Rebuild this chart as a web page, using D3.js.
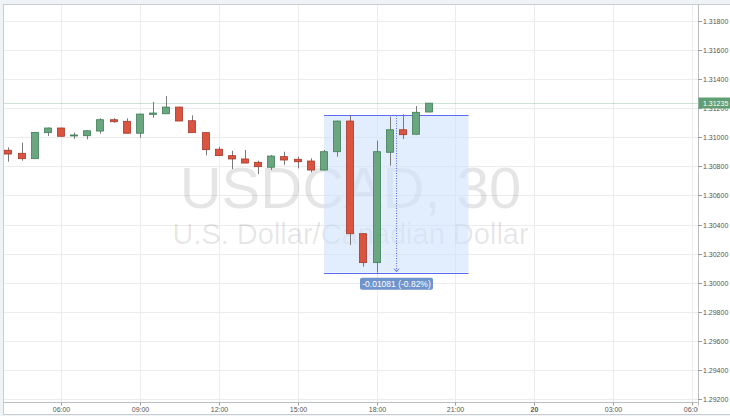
<!DOCTYPE html>
<html><head><meta charset="utf-8">
<script src="https://cdnjs.cloudflare.com/ajax/libs/d3/7.8.5/d3.min.js"></script>
<style>html,body{margin:0;padding:0;background:#f0f3f6;}svg{display:block;}</style>
</head><body><svg id="c" width="730" height="416"></svg>
<script>
// ---- data ----
const symbolTitle = "USDCAD, 30";
const symbolName = "U.S. Dollar/Canadian Dollar";
const barTimes = ["04:00","04:30","05:00","05:30","06:00","06:30","07:00","07:30","08:00","08:30","09:00","09:30","10:00","10:30","11:00","11:30","12:00","12:30","13:00","13:30","14:00","14:30","15:00","15:30","16:00","16:30","17:00","17:30","18:00","18:30","19:00","19:30","20:00"];
const opens  = [1.30911,1.30890,1.30853,1.31032,1.31064,1.31012,1.31011,1.31043,1.31121,1.31110,1.31028,1.31158,1.31162,1.31208,1.31114,1.31032,1.30918,1.30874,1.30851,1.30828,1.30794,1.30867,1.30849,1.30837,1.30775,1.30901,1.31112,1.30337,1.30138,1.30897,1.31052,1.31021,1.31174];
const highs  = [1.30931,1.30963,1.31037,1.31067,1.31066,1.31032,1.31048,1.31131,1.31131,1.31131,1.31162,1.31243,1.31284,1.31210,1.31151,1.31034,1.30935,1.30908,1.30913,1.30839,1.30878,1.30901,1.30867,1.30856,1.30913,1.31114,1.31150,1.30339,1.30977,1.31142,1.31158,1.31215,1.31235];
const lows   = [1.30832,1.30839,1.30851,1.31009,1.31006,1.30990,1.30986,1.31025,1.31100,1.31028,1.30997,1.31135,1.31160,1.31112,1.31032,1.30876,1.30872,1.30782,1.30823,1.30748,1.30775,1.30810,1.30787,1.30759,1.30773,1.30867,1.30259,1.30110,1.30069,1.30805,1.30988,1.31019,1.31172];
const closes = [1.30885,1.30853,1.31034,1.31064,1.31007,1.31016,1.31045,1.31121,1.31107,1.31028,1.31160,1.31167,1.31208,1.31112,1.31032,1.30915,1.30874,1.30851,1.30823,1.30798,1.30871,1.30844,1.30832,1.30775,1.30901,1.31112,1.30337,1.30138,1.30901,1.31052,1.31018,1.31172,1.31235];
const priceTicks = [1.292,1.294,1.296,1.298,1.300,1.302,1.304,1.306,1.308,1.310,1.312,1.314,1.316,1.318];
const priceTickLabels = ["1.29200","1.29400","1.29600","1.29800","1.30000","1.30200","1.30400","1.30600","1.30800","1.31000","1.31200","1.31400","1.31600","1.31800"];
const timeTicks = ["19 06:00","19 09:00","19 12:00","19 15:00","19 18:00","19 21:00","20 00:00","20 03:00","20 06:00"];
const timeTickLabels = ["06:00","09:00","12:00","15:00","18:00","21:00","20","03:00","06:00"];
const timeDomain = ["19 03:47:40","20 06:13:40"];
const lastPrice = 1.31235;
const lastPriceLabel = "1.31235";
const measureTimes = ["19 16:00","19 21:30"];
const measureMid = "19 18:45";
const measurePrices = [1.30069, 1.31150];
const measureLabel = "-0.01081 (-0.82%)";

// ---- helpers ----
function T(s){ // "DD HH:MM[:SS]"
  const [d, hm] = s.split(" ");
  const p = hm.split(":").map(Number);
  return new Date(2015, 0, +d, p[0], p[1], p[2]||0);
}
const candles = barTimes.map((t,i)=>({t:T("19 "+t),o:opens[i],h:highs[i],l:lows[i],c:closes[i]}));

const svg = d3.select("#c");
const L = 3.5, R = 698, TOP = 4.5, BOT = 402.5;
const x = d3.scaleTime().domain(timeDomain.map(T)).range([3, 698]);
const y = d3.scaleLinear().domain([1.292, 1.318]).range([399, 21]);
const font = "'Liberation Sans', Arial, sans-serif";

// frame
svg.append("rect").attr("x",L).attr("y",TOP).attr("width",740).attr("height",410)
  .attr("fill","#fff").attr("stroke","#c9cdd1");

svg.append("defs").append("clipPath").attr("id","plot")
  .append("rect").attr("x",L+0.5).attr("y",TOP+0.5).attr("width",R-L-0.5).attr("height",BOT-TOP-0.5);
svg.select("defs").append("clipPath").attr("id","xax")
  .append("rect").attr("x",L+0.5).attr("y",BOT).attr("width",R-L-0.5).attr("height",14);

// grid
const g = svg.append("g").attr("clip-path","url(#plot)");
g.selectAll("line.hg").data(priceTicks).enter().append("line")
  .attr("x1",L).attr("x2",R).attr("y1",d=>Math.round(y(d))+0.5).attr("y2",d=>Math.round(y(d))+0.5)
  .attr("stroke","#ececec");
g.selectAll("line.vg").data(timeTicks).enter().append("line")
  .attr("y1",TOP).attr("y2",BOT).attr("x1",d=>Math.round(x(T(d)))+0.5).attr("x2",d=>Math.round(x(T(d)))+0.5)
  .attr("stroke","#ececec");

// watermark
g.append("text").attr("x",350.5).attr("y",208).attr("text-anchor","middle")
  .attr("font-family",font).attr("font-size",58).attr("fill","#000").attr("fill-opacity",0.1)
  .text(symbolTitle);
g.append("text").attr("x",350.5).attr("y",244).attr("text-anchor","middle")
  .attr("font-family",font).attr("font-size",29).attr("fill","#000").attr("fill-opacity",0.1)
  .text(symbolName);

// measurement box
const mx0 = x(T(measureTimes[0])), mx1 = x(T(measureTimes[1]));
const my0 = y(measurePrices[1]), my1 = y(measurePrices[0]);
g.append("rect").attr("x",mx0).attr("y",my0).attr("width",mx1-mx0).attr("height",my1-my0)
  .attr("fill","#cfe2fb").attr("fill-opacity",0.6);
[my0,my1].forEach(v=>g.append("line").attr("x1",mx0).attr("x2",mx1).attr("y1",Math.round(v)+0.5).attr("y2",Math.round(v)+0.5)
  .attr("stroke","#5c6cf2").attr("stroke-width",1));
const mm = Math.round(x(T(measureMid)))+0.5;
g.append("line").attr("x1",mm).attr("x2",mm).attr("y1",my0).attr("y2",my1-1)
  .attr("stroke","#5c6cf2").attr("stroke-dasharray","1,1.5");
g.append("path").attr("d",`M${mm-2.5},${my1-4}L${mm},${my1-1}L${mm+2.5},${my1-4}`)
  .attr("fill","none").attr("stroke","#5c6cf2");

// last price dotted line
g.append("line").attr("x1",L).attr("x2",R).attr("y1",Math.round(y(lastPrice))+0.5).attr("y2",Math.round(y(lastPrice))+0.5)
  .attr("stroke","#9cc5ac").attr("stroke-dasharray","1,1");

// candles
const bw = 8;
const up = "#6aa67f", upS = "#3f7f58", dn = "#db5440", dnS = "#a9372a";
const cg = g.append("g");
cg.selectAll("line.w").data(candles).enter().append("line")
  .attr("x1",d=>Math.round(x(d.t))+0.5).attr("x2",d=>Math.round(x(d.t))+0.5)
  .attr("y1",d=>y(d.h)).attr("y2",d=>y(d.l)).attr("stroke","#7a7a7a");
cg.selectAll("rect.b").data(candles).enter().append("rect")
  .attr("x",d=>Math.round(x(d.t))-bw/2+0.5).attr("width",bw-1)
  .attr("y",d=>y(Math.max(d.o,d.c))).attr("height",d=>Math.max(1,Math.abs(y(d.o)-y(d.c))))
  .attr("fill",d=>d.c>=d.o?up:dn).attr("stroke",d=>d.c>=d.o?upS:dnS).attr("stroke-width",0.8);

// measurement label
const lw = 73, lh = 12;
svg.append("rect").attr("x",mm-lw/2).attr("y",my1+5).attr("width",lw).attr("height",lh).attr("rx",2)
  .attr("fill","#6f94cc");
svg.append("text").attr("x",mm).attr("y",my1+14).attr("text-anchor","middle")
  .attr("font-family",font).attr("font-size",8.5).attr("fill","#fff").text(measureLabel);

// plot separators
svg.append("line").attr("x1",R+0.5).attr("x2",R+0.5).attr("y1",TOP).attr("y2",BOT+3).attr("stroke","#b9bec3");
svg.append("line").attr("x1",L).attr("x2",R+0.5).attr("y1",BOT).attr("y2",BOT).attr("stroke","#b9bec3");

// y axis
const ya = svg.append("g");
priceTicks.forEach((v,i)=>{
  const yy = Math.round(y(v))+0.5;
  ya.append("line").attr("x1",R).attr("x2",R+4).attr("y1",yy).attr("y2",yy).attr("stroke","#999");
  ya.append("text").attr("x",R+5).attr("y",yy+2.5).attr("font-family",font).attr("font-size",7)
    .attr("fill","#555").text(priceTickLabels[i]);
});
// last price label
const ly = Math.round(y(lastPrice))+0.5;
svg.append("rect").attr("x",R+0.5).attr("y",ly-6).attr("width",40).attr("height",11).attr("fill","#5f9f73");
svg.append("text").attr("x",R+5).attr("y",ly+2.5).attr("font-family",font).attr("font-size",7)
  .attr("fill","#fff").text(lastPriceLabel);

// x axis
const xa = svg.append("g").attr("clip-path","url(#xax)");
timeTicks.forEach((t,i)=>{
  const xx = Math.round(x(T(t)))+0.5;
  xa.append("line").attr("x1",xx).attr("x2",xx).attr("y1",BOT).attr("y2",BOT+3).attr("stroke","#999");
  xa.append("text").attr("x",xx).attr("y",BOT+9.5).attr("text-anchor","middle")
    .attr("font-family",font).attr("font-size",7).attr("fill","#555")
    .attr("font-weight",timeTickLabels[i]==="20"?"bold":"normal").text(timeTickLabels[i]);
});
</script></body></html>
